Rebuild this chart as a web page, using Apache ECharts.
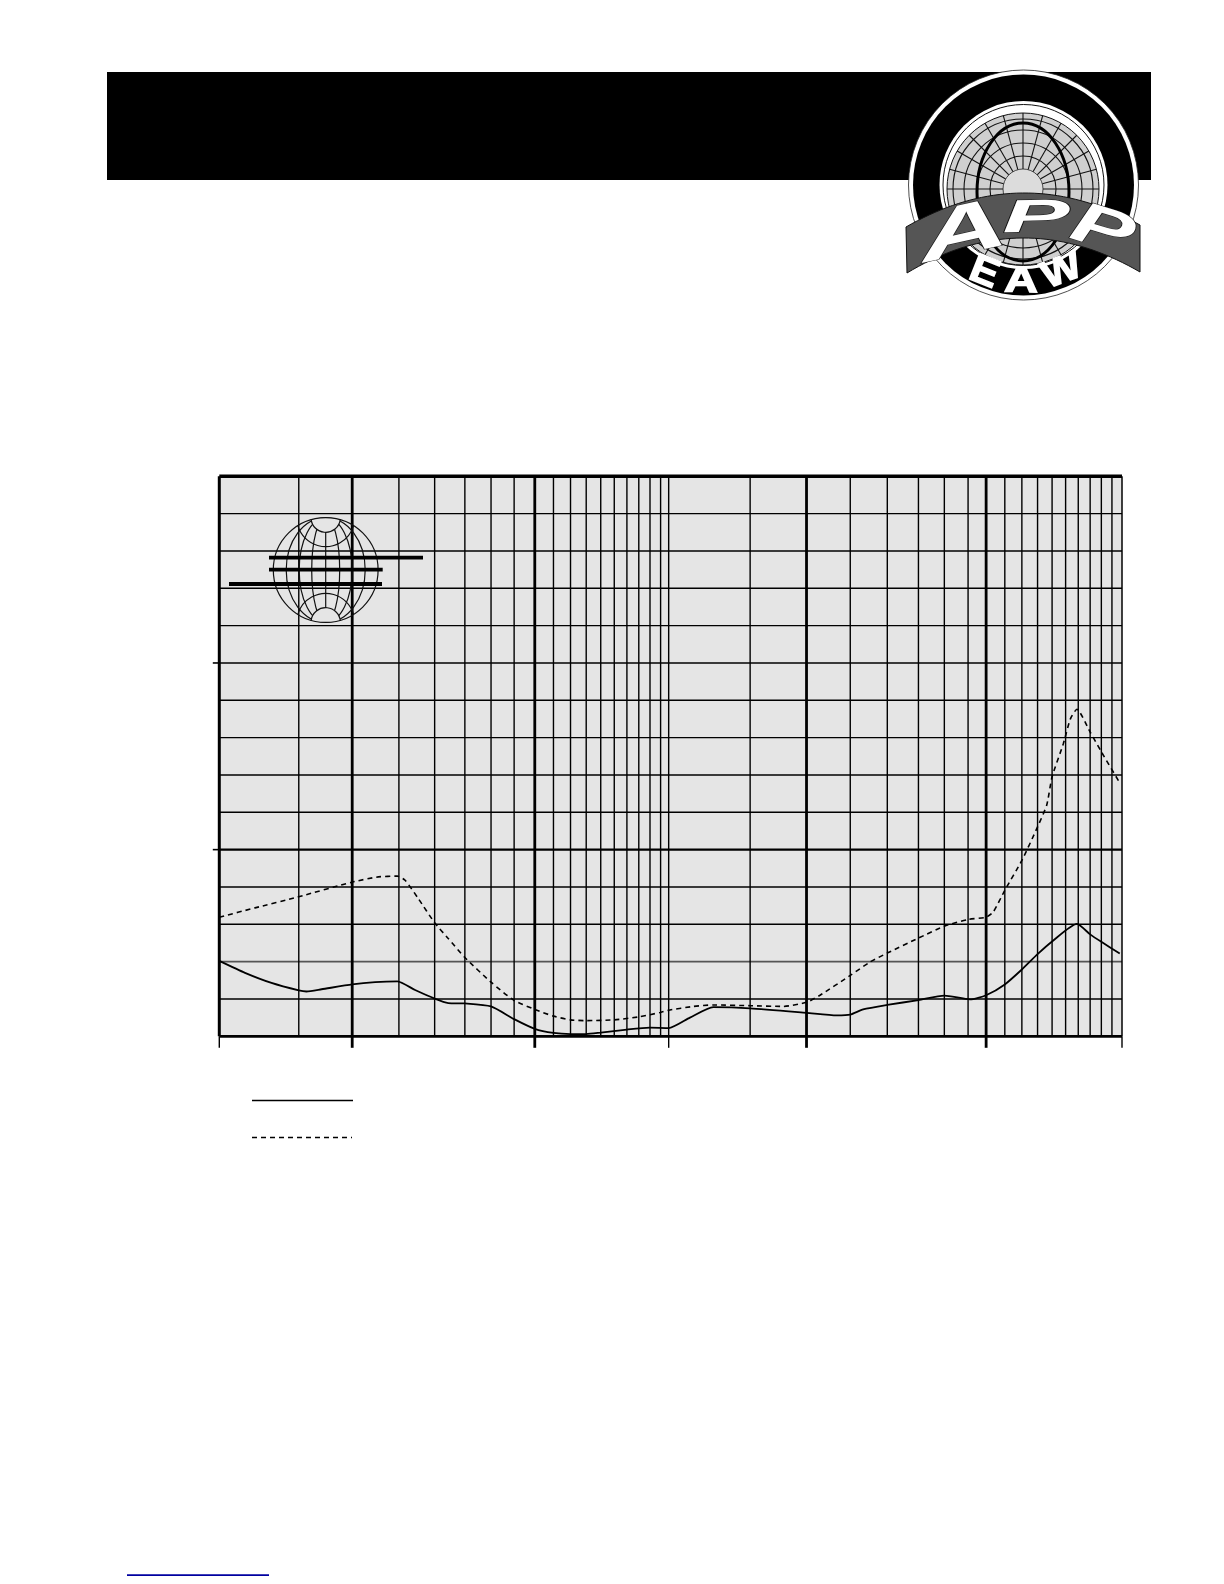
<!DOCTYPE html>
<html>
<head>
<meta charset="utf-8">
<style>html,body{margin:0;padding:0;background:#fff}#c{width:1224px;height:1584px}</style>
<script src="https://cdn.jsdelivr.net/npm/echarts@6/dist/echarts.min.js"></script>
</head>
<body>
<div id="c"></div>
<script>
// Vertical rules (frequency)
const thinFreqs = [30,50,60,70,80,90,110,120,130,140,150,160,170,180,190,198,300,500,604,708,808,912,1100,1200,1300,1400,1500,1600,1700,1800,1900];
const heavyFreqs = [39.4,100,400,1000];
const edgeLeftFreq = [20];
const edgeRightFreq = [2000];
const tickThinFreqs = [20,198,2000];
const tickHeavyFreqs = [39.4,100,400,1000];
// Horizontal rules
const thinLevels = [1,3,4,6,7,8,9,11,12,13,14];
const greyLevels = [2];
const heavyLevels = [5];
const midLevels = [10];
const tickLevels = [5,10];

// Solid curve
const solidFreq = [20,22.8,26.1,30,31.2,33.7,39.4,44.3,49.6,54.3,60,64.3,70,80,90,100,110,120,130,140,160,180,198,220.7,248.6,300,400,466.6,500,534,604,708,808,921,1000,1100,1200,1300,1400,1589,1700,1800,1977];
const solidVal = [2.02,1.70,1.43,1.23,1.20,1.26,1.39,1.45,1.47,1.24,1.01,0.89,0.88,0.80,0.46,0.20,0.09,0.06,0.06,0.10,0.18,0.23,0.22,0.50,0.78,0.75,0.63,0.56,0.58,0.72,0.84,0.97,1.09,0.99,1.10,1.39,1.79,2.20,2.54,3.01,2.73,2.53,2.22];
// Dashed curve
const dashFreq = [20,24,29.8,39.4,45,49.6,51.6,55.2,60,64.3,70,80,90,100,110,120,130,150,170,190,198,224.6,248.6,300,355.6,400,428.4,500,553,604,708,808,912,1000,1037,1100,1200,1300,1362,1400,1483,1538,1589,1700,1800,1977];
const dashVal = [3.19,3.44,3.73,4.13,4.27,4.29,4.18,3.69,3.04,2.62,2.11,1.45,0.96,0.72,0.54,0.44,0.42,0.44,0.52,0.64,0.70,0.80,0.84,0.82,0.80,0.91,1.10,1.63,1.99,2.23,2.63,2.95,3.13,3.19,3.33,3.91,4.71,5.61,6.19,6.95,7.84,8.51,8.76,8.15,7.62,6.79];

const xMin = 20, xMax = 2000, yMin = 0, yMax = 15;
const zip = (a, b) => a.map((v, i) => [v, b[i]]);

function ruleSeries(values, vertical, stroke, lineWidth, tick, z) {
  return {
    type: 'custom', silent: true, clip: false, z: z || 1,
    coordinateSystem: 'cartesian2d',
    data: values.map(v => vertical ? [v, 0] : [xMin, v]),
    encode: {x: 0, y: 1},
    renderItem: (params, api) => {
      let a, b;
      if (vertical) {
        a = api.coord([api.value(0), yMin]);
        b = tick ? [a[0], a[1] + 11.5] : api.coord([api.value(0), yMax]);
      } else {
        b = api.coord([xMax, api.value(1)]);
        a = api.coord([xMin, api.value(1)]);
        if (tick) { b = [a[0], a[1]]; a = [a[0] - 6.5, a[1]]; }
      }
      return {type: 'line', shape: {x1: a[0], y1: a[1], x2: b[0], y2: b[1]},
              style: {stroke: stroke, lineWidth: lineWidth}};
    }
  };
}

// Decorative page furniture
const g = [];
const Z = 50;
const add = o => { o.z = Z + g.length; o.silent = true; g.push(o); };
add({type:'rect', shape:{x:107,y:72,width:1044,height:108}, style:{fill:'#000'}});
add({type:'rect', shape:{x:127,y:1574.3,width:142,height:1.6}, style:{fill:'#0000a0'}});

// Badge
const cx = 1023.5, cy = 185;
add({type:'circle', shape:{cx,cy,r:115}, style:{fill:'#fff',stroke:'#222',lineWidth:0.8}});
add({type:'circle', shape:{cx,cy,r:110.5}, style:{fill:'#000'}});
add({type:'circle', shape:{cx,cy,r:84}, style:{fill:'#fff'}});
add({type:'circle', shape:{cx,cy,r:80.5}, style:{fill:'none',stroke:'#111',lineWidth:1}});
const px = 1023, py = 189;
add({type:'circle', shape:{cx:px,cy:py,r:76}, style:{fill:'#cfcfcf',stroke:'#111',lineWidth:1}});
[33,46,59,70].forEach(r => add({type:'circle', shape:{cx:px,cy:py,r}, style:{fill:'none',stroke:'#111',lineWidth:1.1}}));
for (let a = 0; a < 360; a += 15) {
  const t = a * Math.PI / 180;
  add({type:'line', shape:{x1:px+20*Math.cos(t),y1:py+20*Math.sin(t),x2:px+76*Math.cos(t),y2:py+76*Math.sin(t)}, style:{stroke:'#111',lineWidth:1.1}});
}
add({type:'circle', shape:{cx:px,cy:py,r:20}, style:{fill:'#dcdcdc',stroke:'#222',lineWidth:0.8}});
add({type:'ellipse', shape:{cx:px,cy:192,rx:46,ry:69}, style:{fill:'none',stroke:'#000',lineWidth:3}});
// Ribbon
const rib = [];
const quad = (p0,c,p1,t) => (1-t)*(1-t)*p0 + 2*t*(1-t)*c + t*t*p1;
for (let i = 0; i <= 40; i++) { const t = i/40; rib.push([quad(906,1022,1140,t), quad(227,160,225,t)]); }
for (let i = 40; i >= 0; i--) { const t = i/40; rib.push([quad(907,1022,1140,t), quad(273,203.5,272,t)]); }
add({type:'polygon', shape:{points:rib}, style:{fill:'#555',stroke:'#111',lineWidth:1}});
const letter = (text,x,y,size,sx,rot,face,sw) => add({type:'text', x, y, rotation:rot, scaleX:sx,
  style:{text, fill:'#fff', stroke:sw ? '#fff' : '#111', lineWidth:sw || 1, align:'center', verticalAlign:'middle', font:face+' '+size+'px "Liberation Sans"'}});
letter('A',963,234,70,1.75,0.22,'italic bold');
letter('P',1036,219,46,2.2,0.02,'italic bold');
letter('P',1102,231,58,1.6,-0.30,'italic bold');
letter('E',984,273,40,1.05,-0.38,'bold',1.4);
letter('A',1021,282,36,1.3,-0.02,'bold',1.4);
letter('W',1062,272,38,1.1,0.36,'bold',1.4);

// Globe
const gx = 325.7, gy = 570, gr = 52.4, ink = {stroke:'#111',lineWidth:1.2,fill:'none'};
[39.5,26.5,14].forEach(rx => add({type:'ellipse', shape:{cx:gx,cy:gy,rx,ry:gr}, style:ink}));
add({type:'line', shape:{x1:gx,y1:gy-gr,x2:gx,y2:gy+gr}, style:ink});
add({type:'sector', shape:{cx:gx,cy:gy-gr,r0:0,r:14.7,startAngle:0,endAngle:Math.PI,clockwise:true}, style:{fill:'#e5e5e5'}});
add({type:'sector', shape:{cx:gx,cy:gy+gr,r0:0,r:14.7,startAngle:Math.PI,endAngle:2*Math.PI,clockwise:true}, style:{fill:'#e5e5e5'}});
add({type:'arc', shape:{cx:gx,cy:gy-gr,r:14.7,startAngle:0.1,endAngle:Math.PI-0.1,clockwise:true}, style:ink});
add({type:'arc', shape:{cx:gx,cy:gy+gr,r:14.7,startAngle:Math.PI+0.1,endAngle:2*Math.PI-0.1,clockwise:true}, style:ink});
add({type:'arc', shape:{cx:gx,cy:gy-gr,r:29,startAngle:0.28,endAngle:Math.PI-0.28,clockwise:true}, style:ink});
add({type:'arc', shape:{cx:gx,cy:gy+gr,r:29,startAngle:Math.PI+0.28,endAngle:2*Math.PI-0.28,clockwise:true}, style:ink});
add({type:'circle', shape:{cx:gx,cy:gy,r:gr}, style:ink});
// Heavy strokes over the globe
[[269,423,557.7],[269,382.7,569.7],[229,382,584]].forEach(s =>
  add({type:'line', shape:{x1:s[0],y1:s[2],x2:s[1],y2:s[2]}, style:{stroke:'#000',lineWidth:3.8}}));
// Key samples
add({type:'line', shape:{x1:252,y1:1100.5,x2:353,y2:1100.5}, style:{stroke:'#000',lineWidth:1.4}});
add({type:'line', shape:{x1:252,y1:1137.5,x2:352,y2:1137.5}, style:{stroke:'#000',lineWidth:1.4,lineDash:[5,4]}});

const option = {
  animation: false,
  backgroundColor: '#fff',
  graphic: {elements: g},
  grid: {left: 219.3, right: 102, top: 476.3, bottom: 547.7, show: true, backgroundColor: '#e5e5e5', borderWidth: 0},
  xAxis: {type: 'log', logBase: 10, min: xMin, max: xMax, show: false, splitLine: {show: false}},
  yAxis: {type: 'value', min: yMin, max: yMax, interval: 1, show: false, splitLine: {show: false}},
  series: [
    ruleSeries(thinLevels, false, '#000', 1.4),
    ruleSeries(greyLevels, false, '#555', 1.8),
    ruleSeries(midLevels, false, '#000', 1.5),
    ruleSeries(heavyLevels, false, '#000', 2.4),
    ruleSeries(thinFreqs, true, '#000', 1.4),
    ruleSeries(heavyFreqs, true, '#000', 2.8),
    ruleSeries([yMin], false, '#000', 2.8, false, 4),
    ruleSeries([yMax], false, '#000', 3.4, false, 4),
    ruleSeries(edgeLeftFreq, true, '#000', 3, false, 4),
    ruleSeries(edgeRightFreq, true, '#000', 1.5, false, 4),
    ruleSeries(tickThinFreqs, true, '#000', 1.4, true),
    ruleSeries(tickHeavyFreqs, true, '#000', 2.8, true),
    ruleSeries(tickLevels, false, '#000', 1.6, true),
    {type:'line', name:'Solid', data: zip(solidFreq, solidVal), showSymbol:false, symbol:'none', smooth:0.2, smoothMonotone:'none', clip:false, z:10, silent:true,
      lineStyle:{color:'#000', width:1.8}},
    {type:'line', name:'Dashed', data: zip(dashFreq, dashVal), showSymbol:false, symbol:'none', smooth:0.2, clip:false, z:10, silent:true,
      lineStyle:{color:'#000', width:1.6, type:[5,4]}}
  ]
};
const chart = echarts.init(document.getElementById('c'), null, {renderer:'canvas', width:1224, height:1584});
chart.setOption(option);
</script>
</body>
</html>
